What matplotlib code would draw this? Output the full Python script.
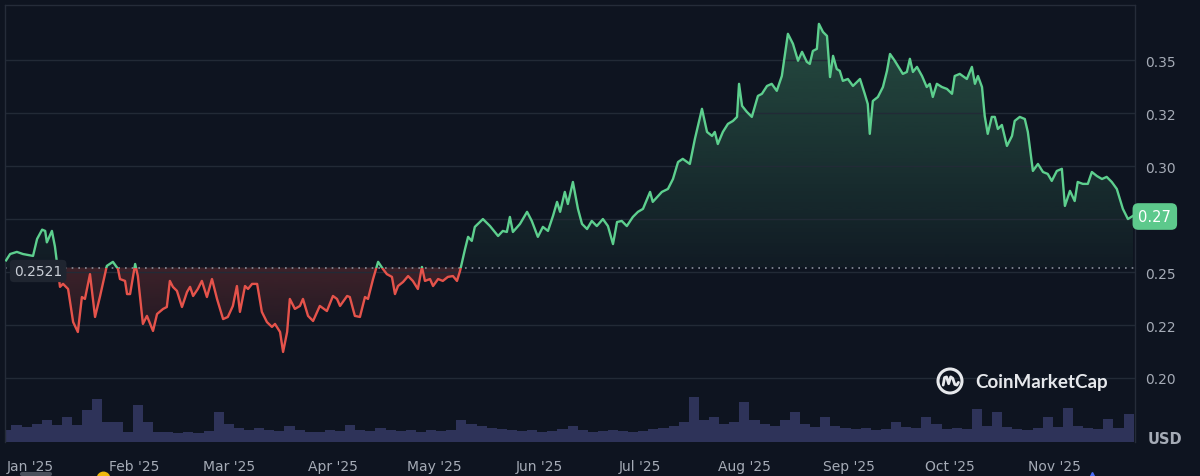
import numpy as np
import pandas as pd
import matplotlib
matplotlib.use('Agg')
import matplotlib.pyplot as plt
import matplotlib.dates as mdates
import matplotlib.transforms as mtransforms
from matplotlib.colors import to_rgb
from matplotlib.patches import Rectangle, Circle
from matplotlib.path import Path
from matplotlib.lines import Line2D

# ---- data ----
start = pd.Timestamp('2025-01-01')

# days since 1 Jan 2025
days = [
    -7.1, -5.9, -3.9, -2.1, 0.9, 2.1, 3.6, 4.5, 5.0, 6.5,
    7.4, 8.9, 9.8, 11.3, 12.8, 14.2, 15.4, 16.3, 17.8, 19.3,
    20.8, 22.8, 24.6, 26.1, 26.7, 28.2, 28.8, 29.7, 31.2, 32.0,
    33.5, 34.7, 36.5, 37.7, 39.5, 40.6, 41.5, 42.4, 43.6, 45.1,
    46.6, 47.5, 48.4, 49.8, 51.0, 52.5, 54.0, 55.5, 57.3, 58.7,
    60.2, 61.4, 62.3, 63.8, 64.7, 65.9, 67.4, 68.8, 70.3, 71.8,
    72.7, 74.2, 75.1, 76.3, 77.1, 78.6, 80.1, 81.0, 82.5, 84.0,
    86.0, 88.1, 89.9, 91.1, 92.0, 94.1, 94.9, 96.4, 97.9, 99.4,
    100.3, 101.8, 103.3, 104.7, 105.9, 107.4, 108.3, 109.2, 110.7, 112.2,
    113.6, 115.1, 116.3, 117.2, 118.7, 119.6, 121.1, 122.5, 124.0, 125.5,
    126.7, 127.6, 129.1, 130.0, 131.1, 132.0, 132.9, 134.4, 136.5, 138.9,
    140.3, 141.5, 142.4, 143.3, 145.4, 147.5, 148.9, 150.7, 152.2, 153.7,
    155.2, 156.4, 157.3, 158.7, 159.6, 161.1, 162.6, 163.8, 165.3, 166.7,
    168.2, 170.0, 171.5, 173.0, 174.2, 175.6, 177.1, 178.9, 180.4, 181.9,
    184.0, 184.8, 187.5, 189.3, 190.8, 192.3, 193.7, 195.8, 197.3, 199.4,
    200.9, 202.4, 203.2, 204.1, 205.6, 207.1, 208.6, 209.8, 210.4, 211.3,
    212.7, 214.2, 216.0, 217.2, 218.7, 220.1, 221.6, 223.1, 224.9, 226.4,
    227.9, 229.1, 230.5, 231.4, 232.3, 233.5, 234.1, 235.3, 236.5, 237.4,
    238.3, 239.4, 240.3, 241.2, 242.7, 244.2, 246.3, 247.7, 248.6, 249.2,
    250.1, 251.6, 253.1, 254.3, 255.2, 256.6, 258.1, 259.0, 260.2, 261.1,
    262.0, 263.2, 264.7, 266.1, 267.0, 267.9, 269.1, 270.6, 272.1, 273.6,
    274.4, 275.9, 278.0, 279.5, 280.4, 281.3, 282.5, 283.3, 284.2, 285.4,
    286.3, 287.2, 288.4, 289.9, 291.4, 292.2, 293.7, 295.2, 296.1, 297.6,
    299.1, 300.6, 302.0, 303.2, 304.7, 306.2, 307.1, 308.6, 310.0, 310.9,
    312.4, 313.9, 315.1, 316.6, 318.1, 319.5, 321.0, 322.5, 324.3, 325.8,
    327.3,
]

prices = [
    .2555, .2585, .2595, .2585, .2576, .2656, .2700, .2694, .2640, .2694,
    .2620, .2430, .2444, .2420, .2264, .2217, .2382, .2373, .2490, .2288,
    .2387, .2529, .2548, .2515, .2467, .2458, .2396, .2396, .2538, .2481,
    .2255, .2293, .2222, .2302, .2326, .2335, .2458, .2430, .2411, .2335,
    .2406, .2430, .2387, .2420, .2458, .2382, .2467, .2373, .2278, .2288,
    .2340, .2434, .2312, .2434, .2420, .2444, .2444, .2312, .2264, .2241,
    .2255, .2217, .2123, .2217, .2373, .2326, .2340, .2373, .2293, .2269,
    .2340, .2316, .2387, .2373, .2340, .2387, .2382, .2293, .2288, .2382,
    .2373, .2467, .2548, .2515, .2490, .2477, .2396, .2434, .2453, .2481,
    .2458, .2420, .2524, .2458, .2467, .2434, .2467, .2458, .2477, .2481,
    .2458, .2505, .2609, .2666, .2647, .2713, .2727, .2750, .2717, .2670,
    .2694, .2689, .2760, .2689, .2727, .2784, .2741, .2666, .2713, .2694,
    .2765, .2831, .2784, .2878, .2821, .2925, .2798, .2727, .2703, .2741,
    .2717, .2750, .2717, .2632, .2736, .2741, .2717, .2760, .2784, .2798,
    .2878, .2831, .2878, .2892, .2939, .3019, .3034, .3010, .3128, .3270,
    .3161, .3142, .3161, .3104, .3161, .3199, .3213, .3232, .3388, .3284,
    .3256, .3232, .3331, .3341, .3378, .3388, .3355, .3425, .3624, .3577,
    .3497, .3539, .3492, .3482, .3543, .3553, .3671, .3633, .3614, .3420,
    .3520, .3458, .3449, .3402, .3411, .3378, .3411, .3341, .3293, .3152,
    .3307, .3326, .3373, .3449, .3529, .3497, .3458, .3435, .3444, .3506,
    .3444, .3468, .3425, .3373, .3388, .3326, .3388, .3373, .3364, .3341,
    .3425, .3435, .3411, .3468, .3388, .3425, .3373, .3237, .3152, .3232,
    .3232, .3175, .3194, .3095, .3142, .3213, .3232, .3222, .3161, .2977,
    .3010, .2972, .2963, .2930, .2977, .2987, .2812, .2883, .2835, .2925,
    .2916, .2916, .2972, .2953, .2939, .2949, .2925, .2892, .2798, .2750,
    .2765,
]

# volume, USD millions, one bar per 3 days starting 25 Dec 2024
vol_start_day = -7
volumes = [
    48, 68, 60, 72, 88, 68, 100, 68, 128, 172,
    80, 80, 40, 148, 80, 40, 40, 36, 40, 36,
    44, 120, 72, 56, 48, 56, 48, 44, 64, 48,
    40, 40, 48, 44, 68, 48, 44, 56, 48, 44,
    48, 40, 48, 44, 48, 88, 72, 64, 56, 52,
    48, 44, 48, 40, 44, 52, 64, 48, 40, 44,
    48, 44, 40, 44, 52, 56, 64, 80, 180, 88,
    100, 72, 80, 160, 88, 72, 64, 88, 120, 72,
    60, 100, 64, 56, 52, 56, 48, 52, 80, 60,
    56, 100, 72, 52, 56, 52, 132, 64, 120, 60,
    52, 48, 56, 100, 60, 136, 64, 56, 52, 92,
    56, 112,
]

baseline = 0.2521
last_label = '0.27'
y_ticks = [0.20, 0.225, 0.25, 0.275, 0.30, 0.325, 0.35]
# the 0.275 level is covered by the green last-price tag
y_labels = ['0.20', '0.22', '0.25', '', '0.30', '0.32', '0.35']
month_starts = ['2025-01-01', '2025-02-01', '2025-03-01', '2025-04-01',
                '2025-05-01', '2025-06-01', '2025-07-01', '2025-08-01',
                '2025-09-01', '2025-10-01', '2025-11-01']
month_labels = ["Jan '25", "Feb '25", "Mar '25", "Apr '25", "May '25", "Jun '25",
                "Jul '25", "Aug '25", "Sep '25", "Oct '25", "Nov '25"]

# ---- style ----
bg = '#0e1420'
green = '#5dcf8e'
red = '#e5534b'
grid_c = '#222a36'
text_c = '#a5abb6'

x = mdates.date2num(start + pd.to_timedelta(days, unit='D'))
y = np.array(prices)
vol_days = vol_start_day + 3 * np.arange(len(volumes))
vx = mdates.date2num(start + pd.to_timedelta(vol_days, unit='D'))
t0 = mdates.date2num(start)
xmin, xmax = t0 - 7.42, t0 + 327.9
ymin, ymax = 0.1698, 0.3760

fig = plt.figure(figsize=(12, 4.77), dpi=100, facecolor=bg)
rect = [5 / 1200, 34 / 477, 1130 / 1200, 437 / 477]

# volume underneath
axv = fig.add_axes(rect, zorder=0)
axv.set_facecolor(bg)
axv.bar(vx, volumes, width=3, color='#2e3359', edgecolor='none', align='center')
axv.set_xlim(xmin, xmax)
axv.set_ylim(0, 437 * 4)
axv.axis('off')

ax = fig.add_axes(rect, zorder=1)
ax.patch.set_visible(False)


def gradient_fill(where, color, y_lo, y_hi, a_lo, a_hi):
    poly = ax.fill_between(x, y, baseline, where=where, interpolate=True,
                           facecolor='none', edgecolor='none')
    clip = Path.make_compound_path(*poly.get_paths())
    rgba = np.zeros((256, 1, 4))
    rgba[..., :3] = to_rgb(color)
    rgba[..., 3] = np.linspace(a_lo, a_hi, 256).reshape(-1, 1)
    im = ax.imshow(rgba, extent=[xmin, xmax, y_lo, y_hi], origin='lower',
                   aspect='auto', zorder=1, interpolation='bilinear')
    im.set_clip_path(clip, transform=ax.transData)


gradient_fill(y >= baseline, green, baseline, 0.367, 0.04, 0.30)
gradient_fill(y <= baseline, red, 0.205, baseline, 0.03, 0.22)

# price line, green above the open price, red below
for col, lo, hi in [(green, baseline, ymax), (red, ymin, baseline)]:
    line, = ax.plot(x, y, color=col, lw=1.7, zorder=3, solid_joinstyle='round')
    clip_rect = Rectangle((xmin, lo), xmax - xmin, hi - lo, transform=ax.transData)
    line.set_clip_path(clip_rect)

ax.axhline(baseline, color='#8a909c', lw=1.2, ls=(0, (1, 3)), zorder=2)

ax.set_xlim(xmin, xmax)
ax.set_ylim(ymin, ymax)
ax.set_yticks(y_ticks)
ax.set_yticklabels(y_labels)
ax.yaxis.tick_right()
ax.set_xticks(mdates.date2num(pd.to_datetime(month_starts)))
ax.set_xticklabels(month_labels)
ax.tick_params(axis='both', length=0, labelcolor=text_c, labelsize=10)
ax.tick_params(axis='y', pad=7)
ax.tick_params(axis='x', pad=12)
ax.grid(axis='y', color=grid_c, lw=1, zorder=0)
for side in ['left', 'right', 'top']:
    ax.spines[side].set_color('#252c39')
    ax.spines[side].set_linewidth(1)
ax.spines['bottom'].set_visible(False)

# open price tag on the left
blend = mtransforms.blended_transform_factory(ax.transAxes, ax.transData)
ax.text(0.008, baseline - 0.0016, '0.2521', transform=blend, ha='left', va='center',
        fontsize=10, color='#c9ced6', zorder=5,
        bbox=dict(boxstyle='round,pad=0.3', fc='#1f2530', ec='none'))

# last price tag on the right
ax.text(1.003, prices[-1] - 0.0003, last_label, transform=blend, ha='left', va='center',
        fontsize=10.5, color='white', zorder=5, clip_on=False,
        bbox=dict(boxstyle='round,pad=0.4', fc='#5dc98c', ec='none'))

fig.text(1165 / 1200, 1 - 440 / 477, 'USD', ha='center', va='center',
         fontsize=10.5, weight='bold', color=text_c)

# watermark
fig.text(975 / 1200, 1 - 383 / 477, 'CoinMarketCap', ha='left', va='center',
         fontsize=13.5, family='Lato', weight='bold', color='#e6e8ec')
axl = fig.add_axes([935 / 1200, 1 - 397 / 477, 30 / 1200, 30 / 477], zorder=3)
axl.set_xlim(-1.1, 1.1)
axl.set_ylim(-1.1, 1.1)
axl.set_aspect('equal')
axl.axis('off')
axl.add_patch(Circle((0, 0), 0.88, fill=False, ec='#e6e8ec', lw=2.2))
axl.plot([-0.5, -0.4, -0.25, -0.1, 0.05, 0.2, 0.35, 0.5, 0.62],
         [-0.3, 0.25, 0.3, -0.2, 0.3, 0.2, -0.25, -0.3, -0.1],
         color='#e6e8ec', lw=2.0, solid_capstyle='round', solid_joinstyle='round')

# small event markers cut off at the bottom edge
fig.add_artist(Line2D([103 / 1200], [-2 / 477], marker='o', ms=9, color='#f0b90b',
                      transform=fig.transFigure))
fig.add_artist(Line2D([1092 / 1200], [-3 / 477], marker='^', ms=10, color='#4a6cf7',
                      transform=fig.transFigure))
fig.add_artist(Line2D([22 / 1200, 50 / 1200], [2 / 477, 2 / 477], lw=3, color='#4a505c',
                      solid_capstyle='round', transform=fig.transFigure))

fig.savefig('out.png', dpi=100, facecolor=bg)
